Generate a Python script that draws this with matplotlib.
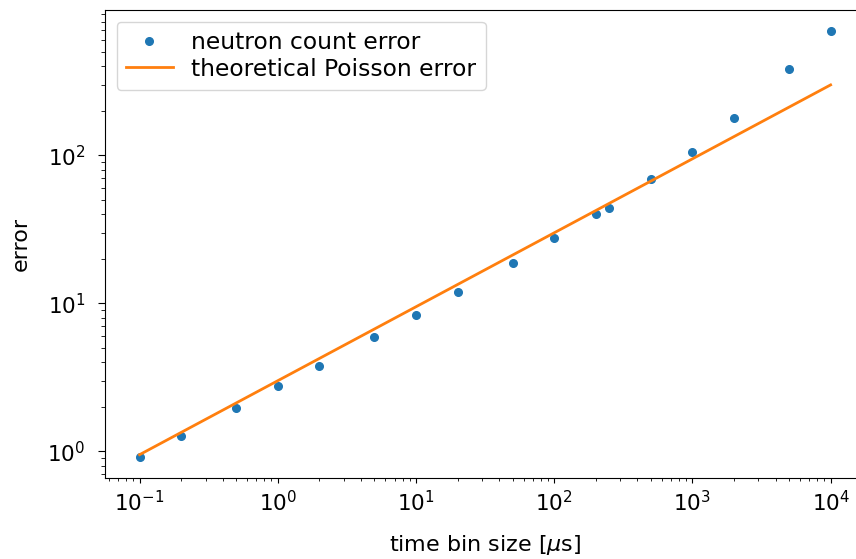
import matplotlib.pyplot as plt

# measured errors vs. time bin size
bin_size = [0.1, 0.2, 0.5, 1, 2, 5, 10, 20, 50, 100, 200, 250, 500, 1000, 2000, 5000, 10000]
count_err = [0.92, 1.28, 1.95, 2.75, 3.8, 5.95, 8.3, 11.9, 18.9, 27.5, 40, 44.5, 69, 105, 178, 382, 690]

# theoretical Poisson error (straight line on log-log)
theory_x = [0.1, 10000]
theory_y = [0.95, 300]

plt.rcParams['font.size'] = 16

fig = plt.figure(figsize=(8.56, 5.59), dpi=100)
ax = fig.add_axes([0.1227, 0.1449, 0.888, 0.837])

ax.plot(bin_size, count_err, 'o', ms=5.5, color='tab:blue', label='neutron count error')
ax.plot(theory_x, theory_y, '-', lw=2, color='tab:orange', label='theoretical Poisson error')
ax.set_xscale('log')
ax.set_yscale('log')
ax.tick_params(axis='both', which='major', labelsize=15.5)
ax.tick_params(axis='x', which='major', pad=5)
ax.tick_params(axis='y', which='major', length=5, pad=9)
ax.tick_params(axis='y', which='minor', length=3)
ax.spines['right'].set_visible(False)
ax.set_xlabel(r'time bin size [$\mu$s]', labelpad=13)
ax.set_ylabel('error', labelpad=12)
ax.legend(loc='upper left', fontsize=16.8, labelspacing=0.15)

fig.savefig('out.png', dpi=100)
